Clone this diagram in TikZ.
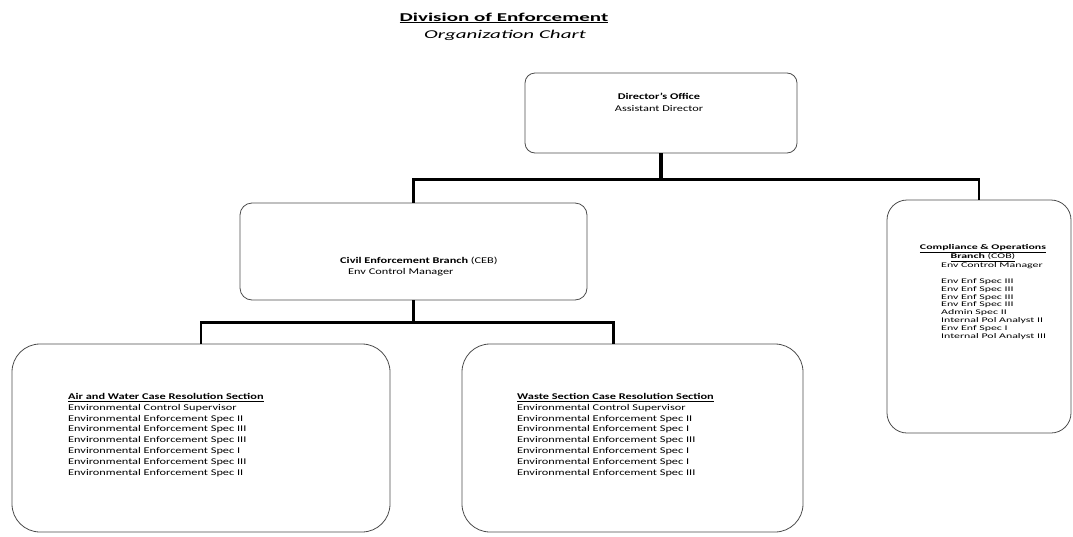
\documentclass[tikz,border=0pt]{standalone}
\usepackage{fontspec}
\setmainfont{Carlito}
\newfontfamily\headfont[FakeStretch=1.75]{Carlito}
\newfontfamily\boxfont[FakeStretch=1.4]{Carlito}
\newfontfamily\cobfont[FakeStretch=1.65]{Carlito}
\usetikzlibrary{positioning}

\tikzset{
  unit/.style={draw=black!70, line width=0.8pt, rounded corners=#1, inner sep=0pt},
  txt/.style={inner sep=0pt, align=left, font=\boxfont\fontsize{8.8}{10.9}\selectfont},
  cobtxt/.style={inner sep=0pt, align=left, font=\cobfont\fontsize{7.2}{7.8}\selectfont},
  link/.style={draw=black, line width=2.4pt},
  stub/.style={draw=black, line width=3.6pt}
}

\begin{document}
\begin{tikzpicture}[x=1pt, y=-1pt]
    \useasboundingbox (0,0) rectangle (1073,536);

    % title
    \node[inner sep=0pt, font=\headfont\fontsize{12}{17}\selectfont\bfseries] (title) at (504,18) {\underline{Division of Enforcement}};
    \node[inner sep=0pt, font=\headfont\fontsize{12}{17}\selectfont\itshape] (subtitle) at (505,35) {Organization Chart};

    % boxes
    \node[unit=10pt, minimum width=272, minimum height=80] (dir) at (661,113) {};
    \node[unit=12pt, minimum width=347, minimum height=97] (ceb) at (413.5,251.5) {};
    \node[unit=20pt, minimum width=184, minimum height=233] (cob) at (979,316.5) {};
    \node[unit=28pt, minimum width=378, minimum height=188] (aw) at (201,438) {};
    \node[unit=28pt, minimum width=341, minimum height=188] (waste) at (632.5,438) {};

    % texts
    \node[txt, align=center, font=\boxfont\fontsize{8.8}{11.6}\selectfont] (dirtxt) at (659,102.5) {\textbf{Director’s Office}\\Assistant Director};
    \node[txt, anchor=west] (cebtxt) at (340,266.5) {\textbf{Civil Enforcement Branch} (CEB)\\\hspace*{8pt}Env Control Manager};
    \node[cobtxt, align=center, font=\cobfont\fontsize{7.2}{8.2}\selectfont] (cobhead) at (983,253) {\textbf{\underline{Compliance \& Operations}}\\\underline{\textbf{Branch} (COB)}};
    \node[cobtxt, anchor=west] (cobtxt) at (941,301) {Env Control Manager\\[7.8pt]Env Enf Spec III\\Env Enf Spec III\\Env Enf Spec III\\Env Enf Spec III\\Admin Spec II\\Internal Pol Analyst II\\Env Enf Spec I\\Internal Pol Analyst III};
    \node[txt, anchor=west] (awtxt) at (68,435) {\textbf{\underline{Air and Water Case Resolution Section}}\\Environmental Control Supervisor\\Environmental Enforcement Spec II\\Environmental Enforcement Spec III\\Environmental Enforcement Spec III\\Environmental Enforcement Spec I\\Environmental Enforcement Spec III\\Environmental Enforcement Spec II};
    \node[txt, anchor=west] (wastetxt) at (517,435) {\textbf{\underline{Waste Section Case Resolution Section}}\\Environmental Control Supervisor\\Environmental Enforcement Spec II\\Environmental Enforcement Spec I\\Environmental Enforcement Spec III\\Environmental Enforcement Spec I\\Environmental Enforcement Spec I\\Environmental Enforcement Spec III};

    % connectors
    \draw[stub] (dir.south) -- ++(0,26) coordinate (topbus);
    \draw[link] (topbus) -| (ceb.north);
    \draw[link] (topbus) -| (cob.north);
    \draw[stub] (ceb.south) -- ++(0,22) coordinate (lowbus);
    \draw[link] (lowbus) -| (aw.north);
    \draw[link] (lowbus) -| ([xshift=-19pt]waste.north);
\end{tikzpicture}
\end{document}
